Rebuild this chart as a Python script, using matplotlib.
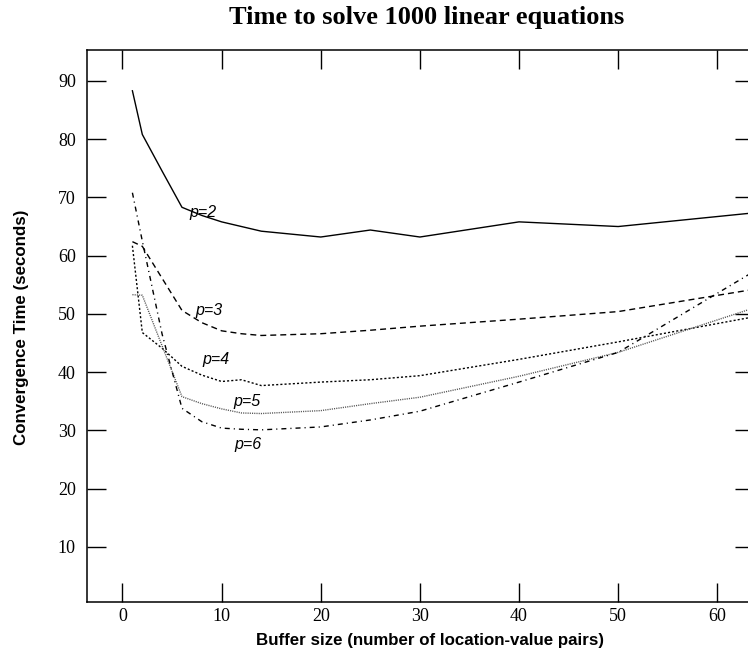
import numpy as np
import matplotlib
matplotlib.use("Agg")
import matplotlib.pyplot as plt

# buffer sizes
x = [1, 2, 4, 6, 8, 10, 12, 14, 20, 25, 30, 40, 50, 64]

p2 = [88.3, 80.8, 74.5, 68.3, 66.9, 65.8, 65.0, 64.2, 63.2, 64.4, 63.2, 65.8, 65.0, 67.4]
p3 = [62.4, 61.6, 56.1, 50.6, 48.5, 47.1, 46.6, 46.3, 46.6, 47.2, 47.9, 49.1, 50.4, 54.3]
p4 = [61.7, 46.8, 44.1, 41.0, 39.5, 38.4, 38.7, 37.7, 38.3, 38.7, 39.4, 42.2, 45.2, 49.6]
p5 = [53.3, 53.2, 44.5, 35.8, 34.6, 33.7, 33.0, 32.9, 33.4, 34.6, 35.7, 39.3, 43.4, 51.2]
p6 = [70.8, 62.5, 46.5, 33.8, 31.5, 30.4, 30.2, 30.1, 30.6, 31.8, 33.3, 38.3, 43.4, 57.6]

series = [p2, p3, p4, p5, p6]
names = ['p=2', 'p=3', 'p=4', 'p=5', 'p=6']
# label anchor (left edge, vertical centre) in data units
label_x = [6.8, 7.4, 8.1, 11.2, 11.3]
label_y = [67.4, 50.6, 42.1, 35.0, 27.5]

styles = [
    dict(color='black', ls='-'),
    dict(color='black', ls=(0, (4.3, 2.9))),
    dict(color='black', ls=(0, (1.5, 1.5))),
    dict(color='#555555', ls=(0, (0.8, 0.8))),
    dict(color='black', ls=(0, (3.6, 2.9, 0.8, 2.9))),
]

W, H = 748, 659
fig = plt.figure(figsize=(W / 100, H / 100), dpi=100)
ax = fig.add_axes([87 / W, 1 - 602.3 / H, (754 - 87) / W, (602.3 - 50) / H])

for ys, st in zip(series, styles):
    ax.plot(x, ys, lw=1.0, **st)

for name, lx, ly in zip(names, label_x, label_y):
    ax.text(lx, ly, name, fontsize=11.5, style='italic', family='Liberation Sans',
            ha='left', va='center')

ax.set_xlim(-3.58, 63.7)
ax.set_ylim(0.5, 95.3)
ax.set_xticks(range(0, 61, 10))
ax.set_yticks(range(10, 91, 10))
ax.tick_params(direction='in', length=13.7, width=1, top=True, right=True,
               labelsize=13)
ax.tick_params(axis='x', pad=4)
ax.tick_params(axis='y', pad=8)
for lab in ax.get_xticklabels() + ax.get_yticklabels():
    lab.set_family('Liberation Serif')
for sp in ax.spines.values():
    sp.set_linewidth(1.1)

fig.text(430 / W, 1 - 640 / H, 'Buffer size (number of location-value pairs)',
         ha='center', va='center', fontsize=12.2, weight='bold', family='Liberation Sans')
fig.text(22 / W, 1 - 327 / H, 'Convergence Time (seconds)', rotation=90,
         ha='center', va='center', fontsize=12.2, weight='bold', family='Liberation Sans')
fig.text(427 / W, 1 - 24 / H, 'Time to solve 1000 linear equations',
         ha='center', va='baseline', fontsize=19, weight='bold', family='Liberation Serif')

fig.savefig('out.png', dpi=100)
